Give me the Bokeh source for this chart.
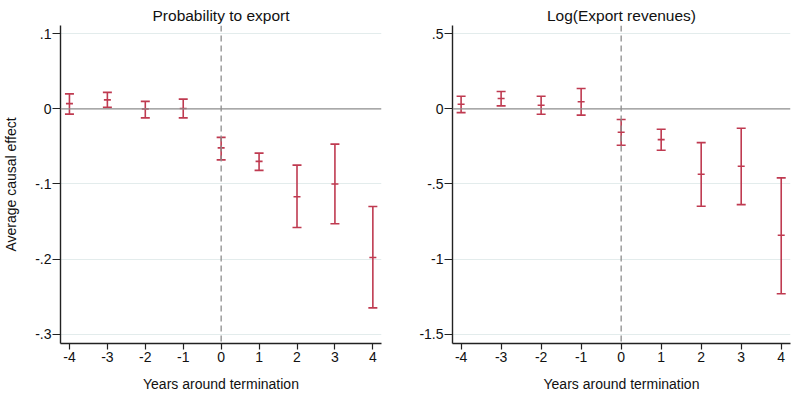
from bokeh.plotting import figure
from bokeh.layouts import row
from bokeh.models import FixedTicker, Span
from bokeh.embed import file_html
from bokeh.resources import INLINE

years = [-4, -3, -2, -1, 0, 1, 2, 3, 4]

prob_est = [0.007, 0.012, 0.0, 0.0005, -0.052, -0.070, -0.117, -0.100, -0.198]
prob_hi = [0.020, 0.022, 0.010, 0.013, -0.038, -0.059, -0.075, -0.047, -0.130]
prob_lo = [-0.007, 0.002, -0.012, -0.012, -0.068, -0.082, -0.158, -0.153, -0.265]

rev_est = [0.031, 0.069, 0.024, 0.047, -0.156, -0.205, -0.436, -0.382, -0.842]
rev_hi = [0.084, 0.115, 0.084, 0.135, -0.071, -0.136, -0.225, -0.129, -0.460]
rev_lo = [-0.025, 0.020, -0.036, -0.042, -0.242, -0.276, -0.649, -0.638, -1.231]

xticks = [-4, -3, -2, -1, 0, 1, 2, 3, 4]
xlabels = ["-4", "-3", "-2", "-1", "0", "1", "2", "3", "4"]

prob_yticks = [0.1, 0.0, -0.1, -0.2, -0.3]
prob_ylabels = [".1", "0", "-.1", "-.2", "-.3"]
rev_yticks = [0.5, 0.0, -0.5, -1.0, -1.5]
rev_ylabels = [".5", "0", "-.5", "-1", "-1.5"]

RED = "#bf3a50"
FONT = "Liberation Sans"
W, H = 400, 395
TOP, FRAME_H = 25, 318


def make_panel(title, est, lo, hi, yticks, ylabels, xrange, yrange, ylabel, left_border, frame_w):
    p = figure(width=W, height=H, output_backend="svg", toolbar_location=None,
               x_range=xrange, y_range=yrange, title=title,
               min_border_left=left_border, min_border_right=W - left_border - frame_w,
               min_border_top=TOP, min_border_bottom=H - TOP - FRAME_H)
    p.outline_line_color = None
    p.background_fill_color = "white"
    p.border_fill_color = "white"
    p.title.align = "center"
    p.title.vertical_align = "top"
    p.title.text_font = FONT
    p.title.text_font_size = "15.5px"
    p.title.text_font_style = "normal"
    p.title.text_color = "#111111"
    p.title.standoff = 0
    p.title.offset = 0

    p.xgrid.visible = False
    p.ygrid.ticker = FixedTicker(ticks=[t for t in yticks if t != 0])
    p.ygrid.grid_line_color = "#e3ecec"
    p.ygrid.grid_line_width = 1

    p.xaxis.ticker = FixedTicker(ticks=xticks)
    p.xaxis.major_label_overrides = {t: l for t, l in zip(xticks, xlabels)}
    p.yaxis.ticker = FixedTicker(ticks=yticks)
    p.yaxis.major_label_overrides = {t: l for t, l in zip(yticks, ylabels)}
    for ax in (p.xaxis, p.yaxis):
        ax.minor_tick_line_color = None
        ax.major_tick_in = 0
        ax.axis_line_color = "#222222"
        ax.axis_line_width = 1.4
        ax.major_tick_line_color = "#222222"
        ax.major_tick_line_width = 1.2
        ax.major_label_text_font = FONT
        ax.major_label_text_font_size = "14px"
        ax.major_label_text_color = "#111111"
        ax.axis_label_text_font = FONT
        ax.axis_label_text_font_size = "14px"
        ax.axis_label_text_font_style = "normal"
        ax.axis_label_text_color = "#111111"
    p.xaxis.major_tick_out = 6
    p.xaxis.major_label_standoff = 2
    p.yaxis.major_tick_out = 8
    p.yaxis.major_label_standoff = 1
    p.yaxis.major_label_orientation = "horizontal"
    p.xaxis.axis_label = "Years around termination"
    p.xaxis.axis_label_standoff = 11
    if ylabel:
        p.yaxis.axis_label = ylabel
        p.yaxis.axis_label_standoff = 13

    p.add_layout(Span(location=0, dimension="width", line_color="#8c8c8c", line_width=1.3))
    p.add_layout(Span(location=0, dimension="height", line_color="#8c8c8c", line_width=1.3,
                      line_dash="6 4"))

    p.segment(x0=years, y0=lo, x1=years, y1=hi, line_color=RED, line_width=1.6)
    p.scatter(x=years, y=lo, marker="dash", size=9, line_color=RED, line_width=1.6)
    p.scatter(x=years, y=hi, marker="dash", size=9, line_color=RED, line_width=1.6)
    p.scatter(x=years, y=est, marker="dash", size=7, line_color=RED, line_width=1.6)
    return p


p1 = make_panel("Probability to export", prob_est, prob_lo, prob_hi, prob_yticks, prob_ylabels,
                (-4.236, 4.228), (-0.3125, 0.111), "Average causal effect", 58, 323)
p2 = make_panel("Log(Export revenues)", rev_est, rev_lo, rev_hi, rev_yticks, rev_ylabels,
                (-4.215, 4.232), (-1.5627, 0.555), None, 52, 338)

layout = row(p1, p2)
open("out.html", "w").write(file_html(layout, INLINE))
